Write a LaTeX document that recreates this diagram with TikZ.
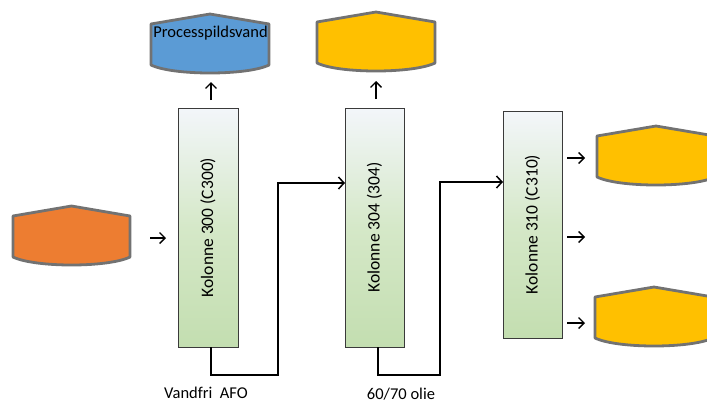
\documentclass[tikz,border=0pt]{standalone}
\usepackage{fontspec}
\setmainfont{Carlito}
\usetikzlibrary{arrows.meta}
\definecolor{tankgray}{HTML}{727272}
\definecolor{tblue}{HTML}{5B9BD5}
\definecolor{tyellow}{HTML}{FFC000}
\definecolor{torange}{HTML}{ED7D31}
\definecolor{coltop}{HTML}{F3F6FA}
\definecolor{colmid}{HTML}{D5E8C8}
\definecolor{colbot}{HTML}{C3DEB0}
\definecolor{coledge}{HTML}{3A3A3A}
\newcommand\drawtank[2]{%
  \draw[tankline,fill=#2] ([yshift=-10pt]#1.north west) -- (#1.north) -- ([yshift=-10pt]#1.north east)
    -- ([yshift=8pt]#1.south east)
    .. controls ([xshift=-22pt,yshift=-2.67pt]#1.south east) and ([xshift=22pt,yshift=-2.67pt]#1.south west) ..
    ([yshift=8pt]#1.south west) -- cycle;}
\tikzset{
  tankbox/.style={minimum width=118pt,minimum height=59pt,inner sep=0pt,outer sep=0pt},
  tankline/.style={draw=tankgray,line width=2.8pt,line join=round},
  colbox/.style={draw=coledge,line width=1pt,top color=coltop,bottom color=colbot,middle color=colmid,
    minimum width=60pt,inner sep=0pt,outer sep=0pt,font=\fontsize{17.5}{19}\selectfont},
  flow/.style={line width=2pt,-{Straight Barb[length=5.5pt,width=12pt,line width=1.5pt]}},
  stub/.style={line width=1.4pt,-{Straight Barb[length=5.5pt,width=11pt,line width=1.4pt]}},
  lbl/.style={font=\fontsize{16.5}{18}\selectfont,inner sep=0pt},
}
\begin{document}
\begin{tikzpicture}[x=1pt,y=-1pt]
\useasboundingbox (0,0) rectangle (707,405);
% tanks
\node[tankbox] (blue) at (210,43.5) {};
\node[tankbox] (yel1) at (376,41.5) {};
\node[tankbox] (yel2) at (656,155.5) {};
\node[tankbox] (yel3) at (654,316.5) {};
\node[tankbox,minimum width=117pt] (orange) at (71.5,235.5) {};
\drawtank{blue}{tblue}
\drawtank{yel1}{tyellow}
\drawtank{yel2}{tyellow}
\drawtank{yel3}{tyellow}
\drawtank{orange}{torange}
\node[lbl] (bluetxt) at (210.5,33) {Processpildsvand};
% columns
\node[colbox,minimum height=239pt] (c300) at (208,227.5) {\rotatebox{90}{Kolonne 300 (C300)}};
\node[colbox,minimum width=59pt,minimum height=239pt] (c304) at (374.5,227.5) {\rotatebox{90}{Kolonne 304 (304)}};
\node[colbox,minimum width=59pt,minimum height=227pt] (c310) at (532.5,224.5) {\rotatebox{90}{Kolonne 310 (C310)}};
% small arrows
\coordinate (a1s) at (150,238); \coordinate (a1e) at (166,238);
\coordinate (a2s) at (211,100); \coordinate (a2e) at (211,82);
\coordinate (a3s) at (376,99); \coordinate (a3e) at (376,81);
\coordinate (a4s) at (567,158); \coordinate (a4e) at (585,158);
\coordinate (a5s) at (567,237); \coordinate (a5e) at (585,237);
\coordinate (a6s) at (567,323); \coordinate (a6e) at (585,323);
\draw[stub] (a1s) -- (a1e);
\draw[stub] (a2s) -- (a2e);
\draw[stub] (a3s) -- (a3e);
\draw[stub] (a4s) -- (a4e);
\draw[stub] (a5s) -- (a5e);
\draw[stub] (a6s) -- (a6e);
% connectors
\coordinate (j1) at (278,375); \coordinate (k1) at (278,183);
\coordinate (j2) at (440,375); \coordinate (k2) at (440,182);
\draw[flow,line join=miter] ([xshift=3pt]c300.south) |- (j1) -- (k1) -- (k1 -| c304.west);
\draw[flow,line join=miter] ([xshift=3pt]c304.south) |- (j2) -- (k2) -- (k2 -| c310.west);
% labels
\node[lbl] (l1) at (206,393) {Vandfri\ \ AFO};
\node[lbl] (l2) at (401,394) {60/70 olie};
\end{tikzpicture}
\end{document}
